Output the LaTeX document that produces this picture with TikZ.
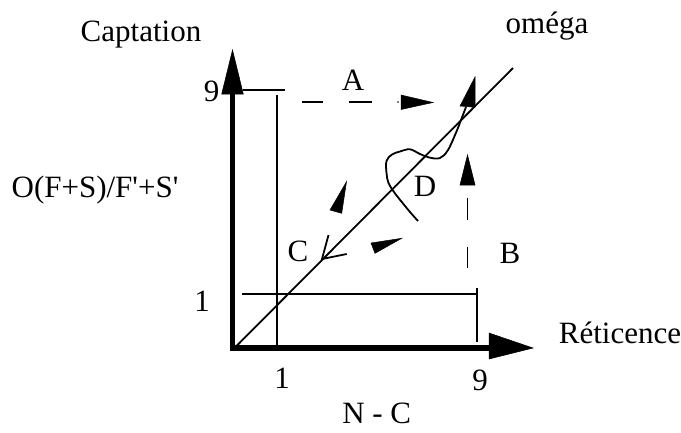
\documentclass[tikz,border=0pt]{standalone}
\usepackage{fontspec}
\setmainfont{Liberation Serif}
\begin{document}
\begin{tikzpicture}[x=1pt,y=-1pt,
  lbl/.style={anchor=base,inner sep=0pt,font=\fontsize{31}{33}\selectfont},
  axis/.style={line width=5.5pt},
  thin/.style={line width=1.8pt},
  head/.style={fill=black,draw=black,line width=0.5pt,line join=miter}]
\useasboundingbox (0,0) rectangle (681,432);
% axes
\coordinate (O) at (232.5,348);
\coordinate (ytop) at (232.5,94);
\coordinate (xend) at (490,348);
\draw[axis] (232.5,350.75) -- (ytop);
\draw[axis] (229.75,348) -- (xend);
\filldraw[head] (221.7,94) -- (243.3,94) -- (232.5,50) -- cycle;
\filldraw[head] (489,333) -- (489,359) -- (533,348) -- cycle;
% guide lines
\draw[thin] (243,90) -- (285,90);
\draw[thin] (277,95) -- (277,348);
\coordinate (h1a) at (242,294);
\coordinate (h1b) at (477,294);
\draw[thin] (h1a) -- (h1b);
\draw[thin] (477,288) -- (477,342);
% diagonal omega
\coordinate (dstart) at (234.5,348);
\coordinate (dend) at (513,68);
\draw[thin] (dstart) -- (dend);
% dashed A
\draw[thin] (302,102) -- (323,102);
\draw[thin] (349,102) -- (372,102);
\fill (398,102) circle (0.9);
\filldraw[head] (401,95) -- (401,109.5) -- (433,102.5) -- cycle;
% dashed B
\draw[thin] (467.5,198) -- (467.5,220);
\draw[thin] (467.5,246.5) -- (467.5,268);
\filldraw[head] (460,185) -- (475,185) -- (467.5,155) -- cycle;
% upper arrow and curve
\filldraw[head] (475,77) -- (460,106) -- (475,107.3) -- cycle;
\draw[thin,line join=round] plot[smooth,tension=0.6] coordinates {
  (466,107) (461,120) (456.7,131) (448,150) (440,158) (430,157.7)
  (420,154) (410,149.3) (400,151.5) (392,154.5) (386.5,161)
  (386.5,173) (388.5,183) (394,192) (401,201) (410,212) (418,221)};
% small arrows near C
\filldraw[head] (346.5,181.7) -- (330,210) -- (341.7,213.3) -- cycle;
\filldraw[head] (401.7,238.3) -- (371,243) -- (375,253.3) -- cycle;
\draw[thin] (328.5,235) -- (322,259) -- (346.7,254);
% labels
\node[lbl] (captation) at (141,41.7) {Captation};
\node[lbl] (omega) at (547,33.3) {oméga};
\node[lbl] (ynine) at (211.5,101.7) {9};
\node[lbl] (labA) at (353,90) {A};
\node[lbl] (ratio) at (95,197) {O(F+S)/F\textquotesingle+S\textquotesingle};
\node[lbl] (labD) at (425,196.7) {D};
\node[lbl] (labC) at (298,261.7) {C};
\node[lbl] (labB) at (510,263) {B};
\node[lbl] (yone) at (202,311.7) {1};
\node[lbl] (reticence) at (620,343) {Réticence};
\node[lbl] (xone) at (282,388.5) {1};
\node[lbl] (xnine) at (480,390) {9};
\node[lbl] (nc) at (376.7,423.5) {N - C};
\end{tikzpicture}
\end{document}
